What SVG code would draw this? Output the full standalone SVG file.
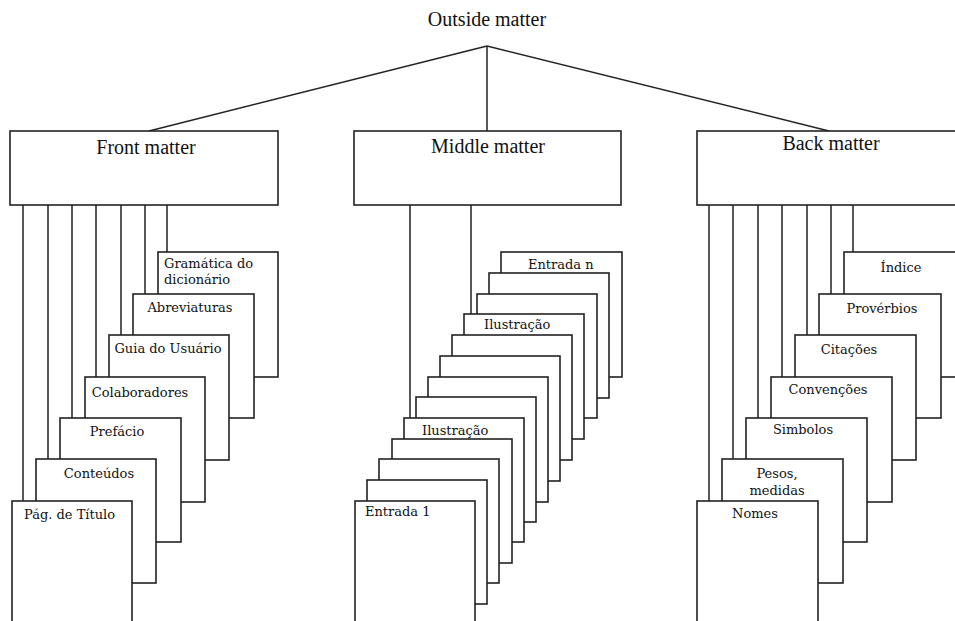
<svg xmlns="http://www.w3.org/2000/svg" width="955" height="621" viewBox="0 0 955 621">
<style>
.box{fill:#fff;stroke:#222;stroke-width:1.6}
.card{fill:#fff;stroke:#222;stroke-width:1.6}
.ln{stroke:#222;stroke-width:1.5;fill:none}
.hd{font-family:"Liberation Serif",serif;font-size:20px;fill:#111}
.lb{font-family:"DejaVu Serif","Liberation Serif",serif;font-size:13px;fill:#111}
.m{text-anchor:middle}
</style>
<rect width="955" height="621" fill="#fff"/>
<g id="connectors">
<line class="ln" x1="487" y1="46" x2="149" y2="131"/>
<line class="ln" x1="487" y1="46" x2="487" y2="131"/>
<line class="ln" x1="487" y1="46" x2="829" y2="131"/>
<path class="ln" d="M23 205V501M48 205V459M72 205V418M96 205V377M121 205V335M145 205V294M167 205V252"/>
<path class="ln" d="M410 205V418M471 205V314"/>
<path class="ln" d="M709 205V501M733 205V459M758 205V418M782 205V377M807 205V335M831 205V294M853 205V252"/>
</g>
<g id="outside-matter"><text class="hd m" x="487" y="26">Outside matter</text></g>
<g id="front-matter"><rect class="box" x="10" y="131" width="268" height="74"/><text class="hd m" x="146" y="154">Front matter</text></g>
<g id="middle-matter"><rect class="box" x="354" y="131" width="267" height="74"/><text class="hd m" x="488" y="153">Middle matter</text></g>
<g id="back-matter"><rect class="box" x="697" y="131" width="270" height="74"/><text class="hd m" x="831" y="150">Back matter</text></g>
<g id="gramatica"><rect class="card" x="158" y="252" width="120" height="125"/><text class="lb" x="164" y="268">Gramática do</text><text class="lb" x="164" y="284">dicionário</text></g>
<g id="abreviaturas"><rect class="card" x="133" y="294" width="121" height="124"/><text class="lb m" x="190" y="312">Abreviaturas</text></g>
<g id="guia"><rect class="card" x="109" y="335" width="120" height="125"/><text class="lb m" x="168" y="353">Guia do Usuário</text></g>
<g id="colaboradores"><rect class="card" x="85" y="377" width="120" height="125"/><text class="lb m" x="140" y="397">Colaboradores</text></g>
<g id="prefacio"><rect class="card" x="60" y="418" width="121" height="124"/><text class="lb m" x="117" y="436">Prefácio</text></g>
<g id="conteudos"><rect class="card" x="36" y="459" width="120" height="124"/><text class="lb m" x="99" y="478">Conteúdos</text></g>
<g id="pag-titulo"><rect class="card" x="12" y="501" width="120" height="140"/><text class="lb" x="24" y="519">Pág. de Título</text></g>
<g id="entrada-n"><rect class="card" x="501" y="252" width="121" height="125"/><text class="lb" x="528" y="269">Entrada n</text></g>
<g id="mid-11"><rect class="card" x="489" y="273" width="120" height="125"/></g>
<g id="mid-10"><rect class="card" x="477" y="294" width="120" height="124"/></g>
<g id="ilustracao-2"><rect class="card" x="464" y="314" width="120" height="125"/><text class="lb" x="484" y="329">Ilustração</text></g>
<g id="mid-8"><rect class="card" x="452" y="335" width="120" height="125"/></g>
<g id="mid-7"><rect class="card" x="440" y="356" width="120" height="125"/></g>
<g id="mid-6"><rect class="card" x="428" y="377" width="120" height="125"/></g>
<g id="mid-5"><rect class="card" x="416" y="397" width="120" height="125"/></g>
<g id="ilustracao-1"><rect class="card" x="404" y="418" width="120" height="124"/><text class="lb" x="422" y="435">Ilustração</text></g>
<g id="mid-3"><rect class="card" x="392" y="439" width="120" height="124"/></g>
<g id="mid-2"><rect class="card" x="379" y="459" width="120" height="124"/></g>
<g id="mid-1"><rect class="card" x="367" y="480" width="120" height="124"/></g>
<g id="entrada-1"><rect class="card" x="355" y="501" width="120" height="140"/><text class="lb" x="365" y="516">Entrada 1</text></g>
<g id="indice"><rect class="card" x="844" y="252" width="130" height="125"/><text class="lb m" x="901" y="272">Índice</text></g>
<g id="proverbios"><rect class="card" x="819" y="294" width="122" height="124"/><text class="lb m" x="882" y="313">Provérbios</text></g>
<g id="citacoes"><rect class="card" x="795" y="335" width="121" height="125"/><text class="lb m" x="849" y="354">Citações</text></g>
<g id="convencoes"><rect class="card" x="771" y="377" width="121" height="125"/><text class="lb m" x="828" y="394">Convenções</text></g>
<g id="simbolos"><rect class="card" x="746" y="418" width="121" height="124"/><text class="lb m" x="803" y="434">Simbolos</text></g>
<g id="pesos"><rect class="card" x="722" y="459" width="121" height="124"/><text class="lb m" x="777" y="478">Pesos,</text><text class="lb m" x="777" y="495">medidas</text></g>
<g id="nomes"><rect class="card" x="697" y="501" width="121" height="140"/><text class="lb m" x="755" y="518">Nomes</text></g>
</svg>
